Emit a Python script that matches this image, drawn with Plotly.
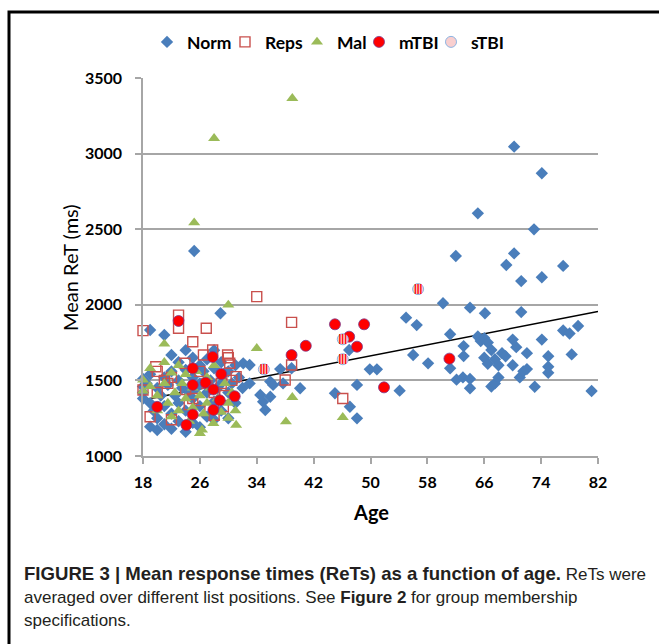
import plotly.graph_objects as go

# ---------------- data ----------------
norm_age = [18, 18, 18, 18, 18.5, 19, 19, 19, 19, 19.5, 20, 20, 20, 20.5, 21, 21, 21, 21, 21.5,
            22, 22, 22, 22, 22.5, 23, 23, 23, 23, 23.5, 24, 24, 24, 24, 24.5, 25.2, 25, 25, 25, 25,
            25.5, 26, 26, 26, 26, 26.5, 27, 27, 27, 27.5, 28, 28, 28, 28, 28.5, 28.9, 29, 29, 29,
            29.5, 30, 30, 30, 30.5, 31, 31, 31.5, 32.1, 32, 33, 33,
            34.5, 34.9, 35.2, 35.9, 35.9, 36.3, 37.3, 37.7, 38.9, 40.1, 45, 47, 47.1, 48.1, 48.1,
            49.9, 50.9, 54.1, 55, 56.5, 56, 58.1, 60.2, 61.2, 61.2, 62, 62.1, 63.1, 63.1, 63, 64,
            64, 64, 65.1, 65.1, 65.5, 66.1, 66, 66.5, 67, 66, 66.5, 67, 67.5, 68, 67.5, 68.5, 68,
            69.1, 69, 70.2, 70.2, 70, 70, 70.5, 71.2, 71.2, 71, 71.5, 72, 72, 73, 73.1, 74.1,
            74.1, 74.1, 75, 75, 75, 77.1, 77.1, 78, 78.3, 79.2, 81.1, 82.1]
norm_ret = [1510, 1460, 1420, 1380, 1480, 1833, 1540, 1350, 1194, 1300, 1172, 1450, 1250, 1400,
            1800, 1520, 1330, 1210, 1470, 1668, 1560, 1280, 1180, 1400, 1620, 1500, 1350, 1230,
            1450, 1700, 1570, 1300, 1160, 1420, 2356, 1650, 1520, 1380, 1220, 1450, 1600, 1480,
            1330, 1190, 1560, 1640, 1420, 1260, 1500, 1700, 1580, 1360, 1240, 1450, 1944, 1620,
            1480, 1300, 1550, 1560, 1420, 1250, 1480, 1600, 1350, 1520, 1613, 1450, 1602, 1480,
            1404, 1359, 1304, 1492, 1392, 1470, 1575, 1480, 1580, 1448, 1415, 1701, 1326, 1470,
            1249, 1573, 1573, 1432, 1915, 1866, 1668, 1613, 2010, 1805, 1580, 2323, 1505, 1727,
            1661, 1520, 1981, 1448, 1510, 2605, 1790, 1760, 1944, 1780, 1750, 1701, 1650, 1610,
            1460, 1480, 1520, 1640, 1680, 1600, 2263, 1660, 3046, 2340, 1770, 1600, 1720, 2157,
            1952, 1520, 1560, 1575, 1680, 2499, 1458, 2870, 2182, 1770, 1660, 1590, 1550, 2257,
            1830, 1810, 1672, 1860, 1430, 2071]

reps_age = [34, 23, 23, 18, 26.9, 25, 27.8, 29.9, 30.2, 26.5, 19.8, 23.9, 21, 22, 21.5, 31.1, 18,
            19, 29.3, 38.9, 38.9, 38, 46.1, 20, 24, 25, 26, 27, 28, 29, 30, 22, 20, 24.5, 26, 28,
            29.5, 30.5]
reps_ret = [2054, 1932, 1845, 1829, 1845, 1756, 1701, 1668, 1613, 1668, 1590, 1613, 1500, 1520,
            1480, 1525, 1437, 1260, 1326, 1884, 1602, 1503, 1380, 1420, 1440, 1380, 1560, 1480,
            1420, 1480, 1650, 1240, 1560, 1340, 1300, 1270, 1400, 1500]

mal_age = [25.2, 28, 39, 30, 34, 39, 38.1, 46.1, 21, 19, 18, 18, 19, 20, 20, 21, 21, 21.5, 22, 22,
           22.5, 23, 23, 23.5, 24, 24, 24.5, 25, 25, 25.5, 26, 26, 26.3, 26.5, 27, 27, 27.5, 27.9,
           28, 28.5, 29, 29.5, 30, 30, 30.5, 31.1, 31]
mal_ret = [2543, 3101, 3366, 1999, 1712, 1388, 1227, 1256, 1741, 1580, 1503, 1430, 1460, 1400,
           1300, 1620, 1480, 1350, 1550, 1260, 1420, 1600, 1300, 1480, 1540, 1380, 1230, 1450,
           1320, 1560, 1400, 1150, 1172, 1280, 1520, 1350, 1450, 1216, 1600, 1380, 1290, 1480,
           1350, 1250, 1420, 1205, 1300]

mtbi_age = [23, 27.8, 25, 29, 26.8, 25, 27.9, 30.9, 28.8, 20, 27.9, 25, 24.1, 38.9, 40.9, 45,
            49.1, 47, 48.1, 51.9, 61.1]
mtbi_ret = [1893, 1655, 1580, 1542, 1485, 1470, 1440, 1395, 1368, 1325, 1305, 1274, 1205, 1668,
            1729, 1871, 1871, 1789, 1723, 1454, 1644]

stbi_age = [35, 46.1, 46.1, 56.7]
stbi_ret = [1573, 1772, 1640, 2104]

trend_age = [18, 82]
trend_ret = [1370, 1955]

x_ticks = [18, 26, 34, 42, 50, 58, 66, 74, 82]
y_ticks = [1000, 1500, 2000, 2500, 3000, 3500]

legend_names = ["Norm", "Reps", "Mal", "mTBI", "sTBI"]

# ---------------- layout helpers (pixel -> paper) ----------------
W, H = 659, 644
PX0, PX1, PY0, PY1 = 143, 598, 78, 456


def px(x):
    return (x - PX0) / (PX1 - PX0)


def py(y):
    return (PY1 - y) / (PY1 - PY0)


fig = go.Figure()

fig.add_trace(go.Scatter(x=trend_age, y=trend_ret, mode="lines", showlegend=False,
                         line=dict(color="black", width=1.5), hoverinfo="skip"))
fig.add_trace(go.Scatter(x=norm_age, y=norm_ret, mode="markers", name=legend_names[0],
                         cliponaxis=False, legendwidth=33,
                         marker=dict(symbol="diamond", size=9.5, color="#4A7EBB",
                                     line=dict(width=0))))
fig.add_trace(go.Scatter(x=reps_age, y=reps_ret, mode="markers", name=legend_names[1],
                         cliponaxis=False, legendwidth=27,
                         marker=dict(symbol="square-open", size=10, color="#C9504D",
                                     line=dict(width=1.4, color="#C9504D"))))
fig.add_trace(go.Scatter(x=mal_age, y=mal_ret, mode="markers", name=legend_names[2],
                         cliponaxis=False, legendwidth=17,
                         marker=dict(symbol="triangle-up", size=10.5, color="#9BBB59",
                                     line=dict(width=0))))
fig.add_trace(go.Scatter(x=mtbi_age, y=mtbi_ret, mode="markers", name=legend_names[3],
                         cliponaxis=False, legendwidth=27,
                         marker=dict(symbol="circle", size=11, color="#FF0000",
                                     line=dict(width=0.8, color="#7A3A8C"))))
fig.add_trace(go.Scatter(x=stbi_age, y=stbi_ret, mode="markers+text", name=legend_names[4],
                         cliponaxis=False, text=["|||"] * len(stbi_age), legendwidth=30,
                         textposition="middle center",
                         textfont=dict(family="Liberation Sans", size=10, color="#FF0000",
                                       weight="bold"),
                         marker=dict(symbol="circle", size=11, color="#F9CFCF",
                                     line=dict(width=1, color="#8DB4E2"))))

grid_col = "#A6A6A6"
tick_font = dict(family="Lato", size=16, color="#000000", weight="bold")

fig.update_xaxes(range=[18, 82], tickvals=x_ticks, ticktext=[str(v) for v in x_ticks],
                 showgrid=False, zeroline=False, showline=True, linecolor=grid_col, linewidth=1.5,
                 ticks="outside", ticklen=6, tickcolor=grid_col, tickwidth=1.5,
                 tickfont=tick_font, ticklabelstandoff=5)
fig.update_yaxes(range=[1000, 3500], tickvals=y_ticks, ticktext=[str(v) for v in y_ticks],
                 showgrid=True, gridcolor=grid_col, gridwidth=1.5, zeroline=False,
                 showline=True, linecolor=grid_col, linewidth=1.5,
                 ticks="outside", ticklen=6, tickcolor=grid_col, tickwidth=1.5,
                 tickfont=tick_font, ticklabelstandoff=10)

annotations = [
    dict(text="Age", x=px(371), y=py(512), xref="paper", yref="paper", showarrow=False,
         xanchor="center", yanchor="middle",
         font=dict(family="Lato", size=20, color="#000000", weight="bold")),
    dict(text="Mean ReT (ms)", x=px(70), y=py(268), xref="paper", yref="paper", showarrow=False,
         textangle=-90, xanchor="center", yanchor="middle",
         font=dict(family="Lato", size=20, color="#000000")),
]
caption_lines = [
    "<span style='font-size:18.6px'><b>FIGURE 3 | Mean response times (ReTs) as a function of age.</b></span> ReTs were",
    "averaged over different list positions. See <b>Figure 2</b> for group membership",
    "specifications.",
]
caption_y = [573, 597, 620]
for line, yy in zip(caption_lines, caption_y):
    annotations.append(dict(text=line, x=px(22), y=py(yy), xref="paper", yref="paper",
                            showarrow=False, xanchor="left", yanchor="middle", align="left",
                            font=dict(family="Liberation Sans", size=17, color="#231F20")))

fig.update_layout(
    width=W, height=H,
    margin=dict(l=PX0, r=W - PX1, t=PY0, b=H - PY1, pad=0),
    paper_bgcolor="white", plot_bgcolor="white",
    showlegend=True,
    legend=dict(orientation="h", x=px(147), y=py(42), xanchor="left", yanchor="middle",
                font=dict(family="Lato", size=17.5, color="#000000", weight="bold"),
                itemwidth=30, tracegroupgap=0, bgcolor="rgba(0,0,0,0)", borderwidth=0),
    annotations=annotations,
    shapes=[dict(type="rect", xref="paper", yref="paper",
                 x0=px(9), x1=px(720), y0=py(12), y1=py(720),
                 line=dict(color="black", width=3), fillcolor="rgba(0,0,0,0)")],
)

fig.write_html("out.html")
